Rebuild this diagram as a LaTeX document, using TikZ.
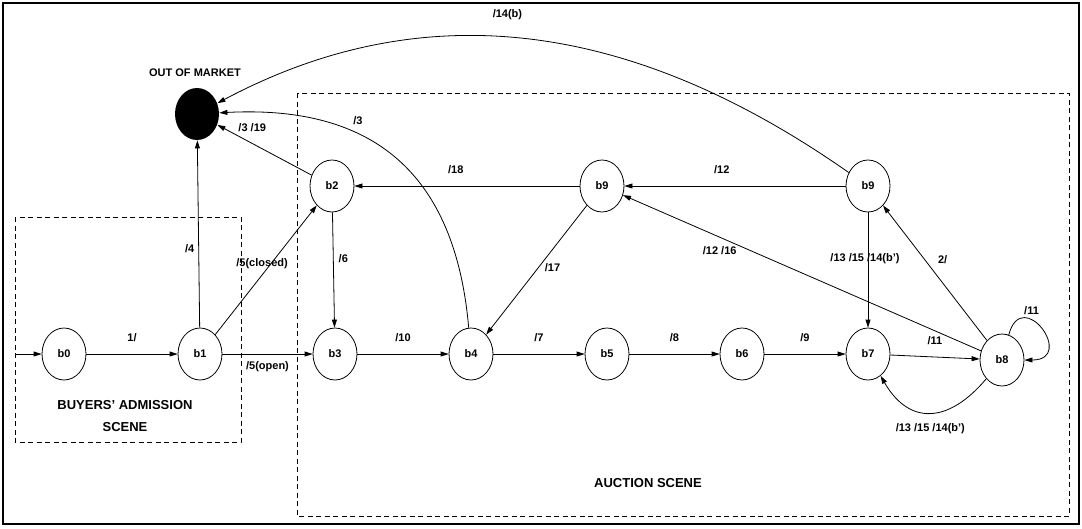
\documentclass[tikz,border=0pt]{standalone}
\usepackage{fontspec}
\setmainfont{Liberation Sans}
\usetikzlibrary{arrows.meta,shapes.geometric}

\begin{document}
\begin{tikzpicture}[x=1pt,y=-1pt,line width=0.8pt,
    >={Triangle[length=8pt,width=5pt]},
    state/.style={draw,ellipse,minimum width=44pt,minimum height=52pt,inner sep=0pt,font=\bfseries\fontsize{11}{13}\selectfont},
    lbl/.style={inner sep=1pt,font=\bfseries\fontsize{11}{13}\selectfont},
    scene/.style={draw,dash pattern=on 5pt off 3.5pt}]
  \useasboundingbox (0,0) rectangle (1082,528);
  \draw[line width=2pt] (3,3) rectangle (1079,524);

  \draw[scene] (15,217) rectangle (241,442);
  \draw[scene] (297,93) rectangle (1069,516);
  \node[font=\bfseries\fontsize{13}{22}\selectfont,align=center] (adm) at (125,416) {BUYERS' ADMISSION\\SCENE};
  \node[font=\bfseries\fontsize{13}{15}\selectfont] (auc) at (648,483) {AUCTION SCENE};

  \node[ellipse,fill,minimum width=44pt,minimum height=52pt] (out) at (197,114) {};
  \node[lbl] (outlbl) at (195,73) {OUT OF MARKET};

  \foreach \n/\x in {0/64,1/200,3/335,4/471,5/607,6/742,7/868}
    \node[state] (b\n) at (\x,354) {b\n};
  \node[state] (b8) at (1002,360) {b8};
  \node[state] (b2) at (332,186) {b2};
  \node[state] (b9a) at (602,186) {b9};
  \node[state] (b9b) at (868,186) {b9};

  \coordinate (start) at (15,354);
  \draw[->] (start) -- (b0);
  \draw[->] (b0) -- node[lbl,above=11pt]{1/} (b1);
  \foreach \a/\b/\t in {b3/b4/{/10},b4/b5/{/7},b5/b6/{/8},b6/b7/{/9},b7/b8/{/11}}
    \draw[->] (\a) -- node[lbl,above=11pt]{\t} (\b);

  \draw[->] (b1) -- node[lbl,below=6pt]{/5(open)} (b3);
  \draw[->] (b1) -- node[lbl,pos=0.55,xshift=-9pt]{/5(closed)} (b2);
  \draw[->] (b1) -- node[lbl,pos=0.42,left=3pt]{/4} (out);
  \draw[->] (b2) -- node[lbl,pos=0.63,above=10pt]{/3 /19} (out);
  \draw[->] (b2) -- node[lbl,pos=0.4,right=4pt]{/6} (b3);
  \draw[->] (b9a) -- node[lbl,pos=0.55,above=11pt]{/18} (b2);
  \draw[->] (b9b) -- node[lbl,pos=0.56,above=11pt]{/12} (b9a);
  \draw[->] (b9a) -- node[lbl,pos=0.48,right=5pt]{/17} (b4);
  \draw[->] (b8) -- node[lbl,pos=0.73,below=8pt]{/12 /16} (b9a);
  \draw[->] (b8) -- node[lbl,pos=0.6,right=12pt]{2/} (b9b);
  \draw[->] (b9b) -- node[lbl,pos=0.4,xshift=-3pt]{/13 /15 /14(b')} (b7);
  \draw[->] (b8) to[out=230,in=300,looseness=1.4] node[lbl,below=9pt]{/13 /15 /14(b')} (b7);
  \draw[->] (b8) to[out=75,in=0,looseness=4.5] node[lbl,pos=0.35,above=3pt]{/11} (b8);
  \draw[->] (b4) to[out=95,in=3,looseness=1.2] node[lbl,pos=0.64,above=8pt]{/3} (out);
  \draw[->] (b9b) to[out=145,in=28] node[lbl,pos=0.55,above=16pt]{/14(b)} (out);
\end{tikzpicture}
\end{document}
